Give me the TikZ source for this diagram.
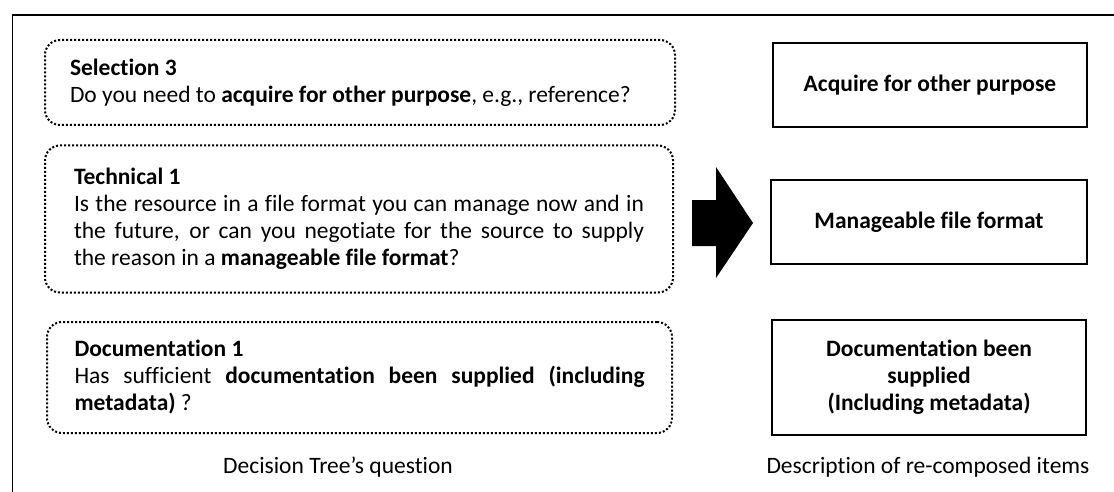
\documentclass[tikz,border=0pt]{standalone}
\usepackage{fontspec}
\setmainfont{Carlito}[Ligatures={NoCommon,NoRare}]
\begin{document}
\begin{tikzpicture}[x=1pt,y=-1pt,
  every node/.style={font=\fontsize{23.5}{27}\selectfont, inner sep=0pt},
  question/.style={draw, line width=2pt, dash pattern=on 2pt off 2pt,
    rounded corners=15pt, text width=570pt, align=justify},
  item/.style={draw, line width=1.6pt, align=center, font=\fontsize{23.5}{27}\selectfont\bfseries},
  caption/.style={anchor=center}]
  \useasboundingbox (0,0) rectangle (1114,492);
  % outer frame (top and left edges)
  \draw[line width=1.6pt] (1120,15) -- (12.5,15) -- (12.5,500);

  % decision tree questions
  \node[question, text width=580pt, minimum width=630pt, minimum height=85pt] (sel) at (360,82.5)
    {\textbf{Selection 3}\\Do you need to \textbf{acquire for other purpose}, e.g., reference?};
  \node[question, minimum width=628pt, minimum height=147pt] (tech) at (359,219)
    {\textbf{Technical 1}\\Is the resource in a file format you can manage now and in\linebreak
     the future, or can you negotiate for the source to supply\linebreak
     the reason in a \textbf{manageable file format}?};
  \node[question, minimum width=625pt, minimum height=111pt] (doc) at (359.5,377.5)
    {\textbf{Documentation 1}\\Has sufficient \textbf{documentation been supplied (including}\linebreak
     \textbf{metadata)} ?};

  % re-composed items
  \node[item, minimum width=314pt, minimum height=84pt] (acq) at (930,85) {Acquire for other purpose};
  \node[item, minimum width=316pt, minimum height=84pt] (man) at (929,222) {Manageable file format};
  \node[item, minimum width=314pt, minimum height=115pt] (docs) at (929,377.5)
    {Documentation been\\supplied\\(Including metadata)};

  % block arrow between the columns
  \fill (692,200) -- (716,200) -- (716,167) -- (753,223) -- (716,278) -- (716,246) -- (692,246) -- cycle;

  % column captions
  \node[caption] (capl) at (338,467) {Decision Tree’s question};
  \node[caption] (capr) at (928,467) {Description of re-composed items};
\end{tikzpicture}
\end{document}
